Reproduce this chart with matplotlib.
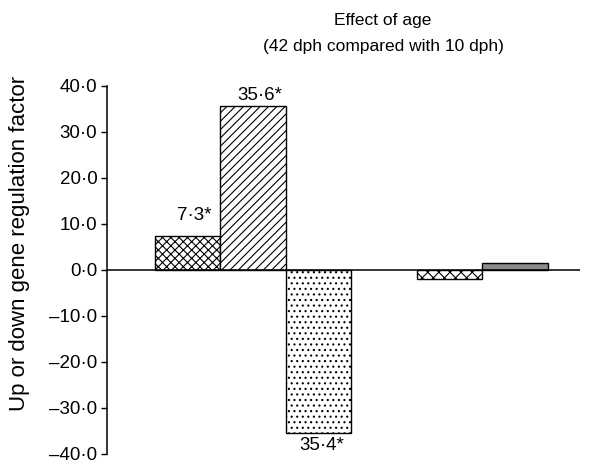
import matplotlib
matplotlib.use("Agg")
import matplotlib.pyplot as plt
from matplotlib.ticker import FuncFormatter

# Data
positions = [0, 1, 2, 4, 5]
values = [7.3, 35.6, -35.4, -1.9, 1.6]
hatches = ["xxxx", "////", "...", "xxx", ""]
facecolors = ["white", "white", "white", "white", "#8c8c8c"]
annotations = {0: "7·3*", 1: "35·6*", 2: "35·4*"}
yticks = [-40, -30, -20, -10, 0, 10, 20, 30, 40]

# label offsets (style only, in data units)
label_offsets = {0: 2.8, 1: 0.5, 2: -1.0}

plt.rcParams["font.family"] = ["Liberation Sans", "DejaVu Sans"]
plt.rcParams["hatch.linewidth"] = 0.8

fig = plt.figure(figsize=(5.95, 4.67), dpi=100)
ax = fig.add_axes([107/595, 13/467, (580-107)/595, (454-86)/467])

for p, v, h, fc in zip(positions, values, hatches, facecolors):
    ax.bar(p, v, width=1.0, color=fc, edgecolor="black", hatch=h, linewidth=1.0)

for i, txt in annotations.items():
    v = values[i]
    if v >= 0:
        ax.text(positions[i] + 0.1, v + label_offsets[i], txt, ha="center", va="bottom", fontsize=13.5)
    else:
        ax.text(positions[i] + 0.05, v + label_offsets[i], txt, ha="center", va="top", fontsize=13.5)

ax.axhline(0, color="black", linewidth=1.1)
ax.set_xlim(-1.23, 5.99)
ax.set_ylim(-40, 40)
ax.set_yticks(yticks)
ax.yaxis.set_major_formatter(FuncFormatter(
    lambda v, pos: f"{v:.1f}".replace(".", "·").replace("-", "–")))
ax.tick_params(axis="y", labelsize=13.5, length=4, width=1.0, pad=3)
ax.set_xticks([])
for s in ["top", "right", "bottom"]:
    ax.spines[s].set_visible(False)
ax.spines["left"].set_linewidth(1.1)

fig.text(383/595, 1 - 20/467, "Effect of age", ha="center", va="center", fontsize=12.5)
fig.text(383/595, 1 - 46/467, "(42 dph compared with 10 dph)", ha="center", va="center", fontsize=12.5)
fig.text(20/595, 1 - 243/467, "Up or down gene regulation factor", rotation=90,
         ha="center", va="center", fontsize=16)

fig.savefig("out.png", dpi=100)
